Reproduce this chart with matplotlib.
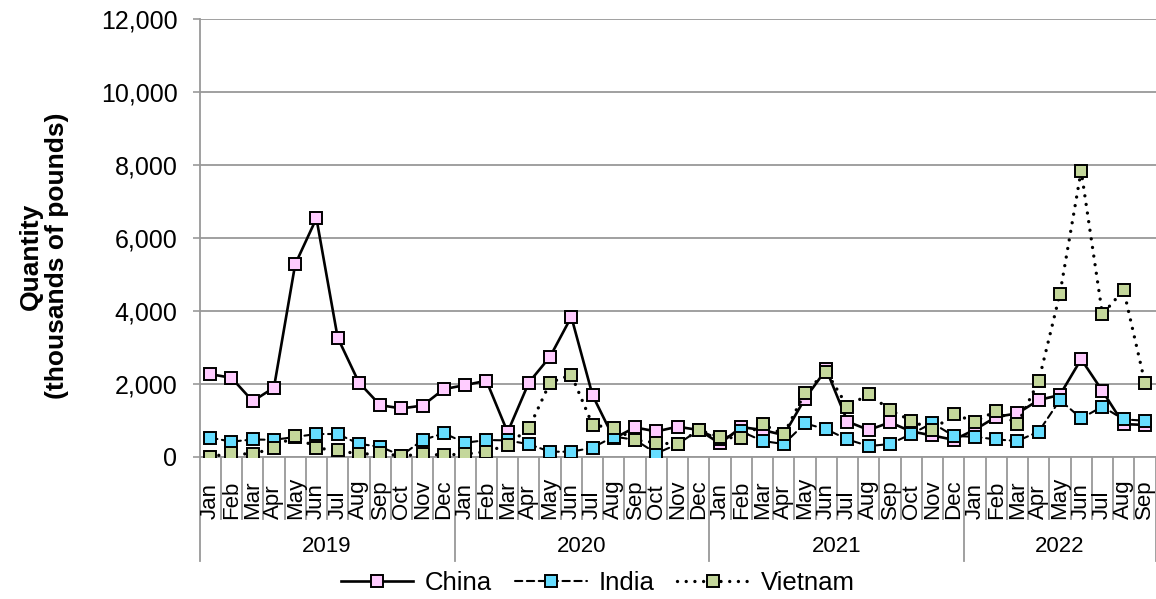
import numpy as np
import matplotlib.pyplot as plt
from matplotlib.ticker import FuncFormatter, MultipleLocator

plt.rcParams['font.family'] = ['Liberation Sans', 'DejaVu Sans']

# ------------------------------------------------------------------
# Data (thousands of pounds), Jan 2019 - Sep 2022
# ------------------------------------------------------------------
years = ["2019", "2020", "2021", "2022"]
months_per_year = [12, 12, 12, 9]
month_names = ["Jan", "Feb", "Mar", "Apr", "May", "Jun",
               "Jul", "Aug", "Sep", "Oct", "Nov", "Dec"]

china = [2270, 2170, 1530, 1900, 5280, 6540, 3270, 2040, 1420, 1330, 1410, 1860,
         1970, 2090, 680, 2040, 2750, 3840, 1690, 510, 810, 700, 830, 740,
         370, 820, 740, 600, 1600, 2400, 970, 740, 950, 700, 590, 470,
         750, 1100, 1195, 1560, 1700, 2680, 1810, 900, 880]
india = [530, 420, 480, 470, 550, 630, 630, 360, 280, 40, 465, 650,
         390, 465, 455, 350, 145, 145, 255, 560, 470, 100, 350, 740,
         480, 700, 440, 355, 920, 760, 480, 300, 355, 630, 930, 575,
         555, 480, 440, 695, 1560, 1060, 1380, 1030, 995]
vietnam = [10, 100, 75, 255, 585, 240, 190, 75, 100, 30, 75, 55,
           80, 145, 330, 785, 2040, 2250, 880, 790, 465, 390, 350, 740,
           550, 510, 900, 620, 1760, 2340, 1380, 1725, 1290, 995, 740, 1170,
           970, 1260, 900, 2080, 4470, 7845, 3910, 4575, 2040]

months = [m for n in months_per_year for m in month_names[:n]]
x = np.arange(len(months))

# ------------------------------------------------------------------
# Figure
# ------------------------------------------------------------------
W, H = 1156, 599
fig = plt.figure(figsize=(W / 100, H / 100), dpi=100)
ax = fig.add_axes([199.6 / W, 1 - 457 / H, (1155.5 - 199.6) / W, (457 - 19) / H])

GRID = "#999999"
TICKSIZE = 18

series = [
    ("China", china, "-", "#FFCCFF", 1.9),
    ("India", india, (0, (3.5, 2.2)), "#66DDFF", 1.5),
    ("Vietnam", vietnam, (0, (0.01, 2.6)), "#C4D79B", 2.4),
]
for i, (name, vals, ls, fc, lw) in enumerate(series):
    ax.plot(x, vals, linestyle=ls, color="black", lw=lw, marker="s", ms=8.6,
            markerfacecolor=fc, markeredgecolor="black", markeredgewidth=1.4,
            dash_capstyle="round", solid_joinstyle="round", label=name, zorder=10 + i)

ax.set_xlim(-0.5, len(months) - 0.5)
ax.set_ylim(0, 12000)
ax.yaxis.set_major_locator(MultipleLocator(2000))
ax.yaxis.set_major_formatter(FuncFormatter(lambda v, p: f"{v:,.0f}"))
ax.grid(axis="y", color=GRID, lw=1.3, zorder=0)
ax.set_axisbelow(True)
ax.tick_params(axis="y", labelsize=TICKSIZE, length=5, width=1.2, color=GRID, pad=11)
ax.set_xticks([])
for side in ["top", "right"]:
    ax.spines[side].set_visible(False)
for side in ["left", "bottom"]:
    ax.spines[side].set_color(GRID)
    ax.spines[side].set_linewidth(1.3)

# ------------------------------------------------------------------
# Two-level category axis
# ------------------------------------------------------------------
ppx = 1 / (457 - 19)          # axes fraction per pixel
month_bottom = -(519 - 457) * ppx
year_bottom = -(561 - 457) * ppx
year_label_y = -(547 - 457) * ppx
trans = ax.get_xaxis_transform()

for xi, m in zip(x, months):
    ax.text(xi, month_bottom, m, rotation=90, ha="center", va="bottom",
            fontsize=16, transform=trans, clip_on=False)

edges = np.arange(len(months) + 1) - 0.5
year_edges = np.concatenate([[0], np.cumsum(months_per_year)]) - 0.5
for e in edges:
    if e in year_edges:
        continue
    ax.plot([e, e], [0, month_bottom], color=GRID, lw=1.3, transform=trans, clip_on=False)
for e in year_edges:
    ax.plot([e, e], [0, year_bottom], color=GRID, lw=1.3, transform=trans, clip_on=False)
for i, yr in enumerate(years):
    mid = (year_edges[i] + year_edges[i + 1]) / 2
    ax.text(mid, year_label_y, yr, ha="center", va="center", fontsize=16,
            transform=trans, clip_on=False)

# ------------------------------------------------------------------
# Labels and legend
# ------------------------------------------------------------------
fig.text(44 / W, 1 - 256 / H, "Quantity\n(thousands of pounds)", rotation=90,
         ha="center", va="center", fontsize=19, fontweight="bold", linespacing=1.1)

fig.legend(loc="center", bbox_to_anchor=(598 / W, 1 - 583 / H), ncol=3, frameon=False,
           fontsize=18.5, handlelength=2.8, handletextpad=0.45, columnspacing=0.9)

fig.savefig("out.png", dpi=100)
